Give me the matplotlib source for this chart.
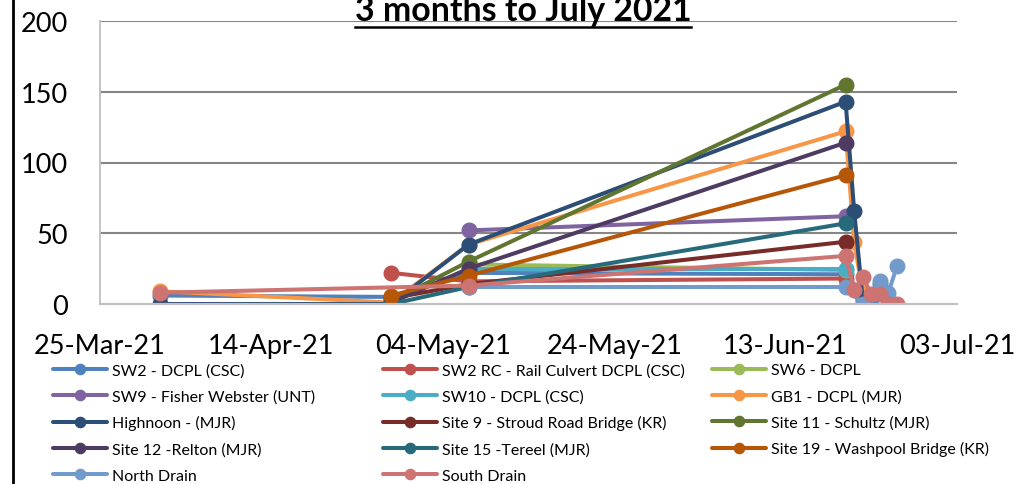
import numpy as np
import matplotlib
matplotlib.use("Agg")
import matplotlib.pyplot as plt
import matplotlib.dates as mdates
from matplotlib.lines import Line2D
from datetime import datetime, timedelta

plt.rcParams['font.family'] = ['Lato', 'DejaVu Sans']

# --- dati ---
dates = ["2021-04-01", "2021-04-28", "2021-05-07", "2021-06-20", "2021-06-21",
         "2021-06-22", "2021-06-23", "2021-06-24", "2021-06-25", "2021-06-26"]
nan = np.nan
sw2         = [6,   5,   22,  21,  nan, nan, 0,   14,  nan, nan]
sw2_rc      = [nan, 22,  16,  18,  nan, nan, nan, nan, nan, nan]
sw6         = [nan, nan, 28,  24,  nan, nan, nan, nan, nan, nan]
sw9         = [nan, nan, 52,  62,  nan, nan, nan, nan, nan, nan]
sw10        = [nan, nan, 25,  25,  nan, nan, nan, nan, nan, nan]
gb1         = [9,   1,   42,  122, 44,  8,   nan, nan, nan, nan]
highnoon    = [0,   0,   42,  143, 66,  3,   nan, nan, nan, nan]
site9       = [nan, 4,   14,  44,  nan, nan, nan, nan, nan, nan]
site11      = [nan, 2,   30,  155, nan, nan, nan, nan, nan, nan]
site12      = [nan, 1,   25,  114, nan, nan, nan, nan, nan, nan]
site15      = [nan, 0,   12,  57,  nan, nan, nan, nan, nan, nan]
site19      = [nan, 6,   20,  91,  nan, nan, nan, nan, nan, nan]
north_drain = [nan, nan, 12,  12,  nan, 0,   nan, 16,  8,   27]
south_drain = [8,   nan, 13,  34,  10,  19,  7,   7,   0,   0]

series = [
    ("SW2 - DCPL (CSC)", sw2, "#4F81BD"),
    ("SW2 RC - Rail Culvert DCPL (CSC)", sw2_rc, "#C0504D"),
    ("SW6 - DCPL", sw6, "#9BBB59"),
    ("SW9 - Fisher Webster (UNT)", sw9, "#8064A2"),
    ("SW10 - DCPL (CSC)", sw10, "#4BACC6"),
    ("GB1 - DCPL (MJR)", gb1, "#F79646"),
    ("Highnoon - (MJR)", highnoon, "#2C4D75"),
    ("Site 9 - Stroud Road Bridge (KR)", site9, "#772C2A"),
    ("Site 11 - Schultz (MJR)", site11, "#5F7530"),
    ("Site 12 -Relton (MJR)", site12, "#4D3B62"),
    ("Site 15 -Tereel (MJR)", site15, "#276A7C"),
    ("Site 19 - Washpool Bridge (KR)", site19, "#B65708"),
    ("North Drain", north_drain, "#729ACA"),
    ("South Drain", south_drain, "#CD7371"),
]

x = np.array([datetime.strptime(d, "%Y-%m-%d") for d in dates])

fig = plt.figure(figsize=(10.27, 4.85), dpi=100)
ax = fig.add_axes([100/1027, 1-305/485, 857/1027, 283/485])

handles = []
for name, vals, col in series:
    v = np.array(vals, dtype=float)
    m = ~np.isnan(v)
    h, = ax.plot(x[m], v[m], color=col, lw=2.9, marker="o", ms=10.5,
                 mec=col, mfc=col, label=name, solid_capstyle="round")
    handles.append(h)

start = datetime(2021, 3, 25)
ax.set_xlim(start, datetime(2021, 7, 3))
ax.set_ylim(0, 200)
ax.set_yticks([0, 50, 100, 150, 200])
ax.set_xticks([start + timedelta(days=20*i) for i in range(6)])
ax.xaxis.set_major_formatter(mdates.DateFormatter("%d-%b-%y"))
ax.tick_params(length=0, labelsize=19.5)
ax.tick_params(axis="y", pad=23)
ax.tick_params(axis="x", pad=21)

ax.yaxis.grid(True, color="#868686", lw=1.5)
ax.get_ygridlines()[0].set_visible(False)
ax.set_axisbelow(True)
for s in ["top", "right"]:
    ax.spines[s].set_visible(False)
ax.spines["left"].set_color("#C0C0C0")
ax.spines["bottom"].set_color("#C0C0C0")
ax.spines["left"].set_linewidth(1.3)
ax.spines["bottom"].set_linewidth(1.6)

# titolo sottolineato (tagliato in alto come nell'originale)
t = fig.text(523/1027, 1-21/485, "3 months to July 2021", ha="center",
             va="baseline", fontsize=24.4, fontweight="bold")
fig.canvas.draw()
bb = t.get_window_extent().transformed(fig.transFigure.inverted())
uy = 1 - 27.5/485
fig.add_artist(Line2D([bb.x0, bb.x1], [uy, uy], color="black", lw=1.8,
                      transform=fig.transFigure))

# bordo sinistro
fig.add_artist(Line2D([13/1027, 13/1027], [0, 1], color="black", lw=2,
                      transform=fig.transFigure))

# legenda: 3 colonne con larghezza fissa
cols_x = [53, 383, 712]
for c in range(3):
    idx = list(range(c, len(series), 3))
    fig.legend([handles[i] for i in idx], [series[i][0] for i in idx],
               loc="upper left", bbox_to_anchor=(cols_x[c]/1027, 1-364/485),
               frameon=False, fontsize=11.5, handlelength=3.4,
               handletextpad=0.3, labelspacing=0.74, borderpad=0,
               borderaxespad=0, markerscale=0.7)

plt.savefig("out.png", dpi=100)
